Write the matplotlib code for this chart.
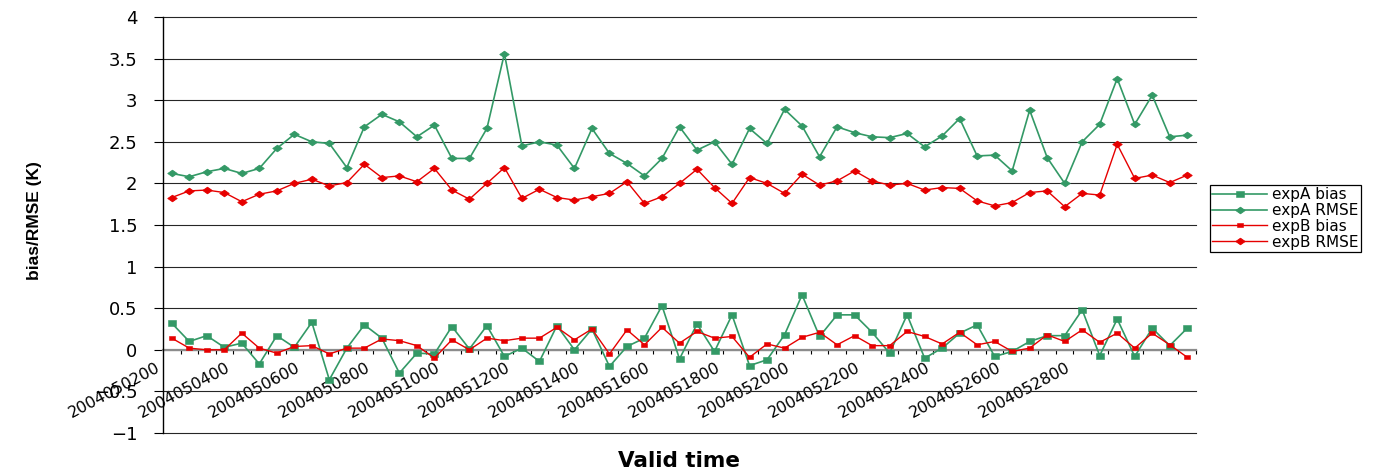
#!/usr/bin/env python3
import matplotlib
matplotlib.use("Agg")
import matplotlib.pyplot as plt
import numpy as np
from matplotlib.path import Path
from matplotlib.ticker import FuncFormatter
from matplotlib.transforms import ScaledTranslation

# valid times, every 12 h from 2 May to 31 May 2004
days = list(range(2, 31))
times = [f"200405{d:02d}{h:02d}" for d in days for h in (0, 12)] + ["2004053100"]

tick_labels = [
    "2004050200", "2004050400", "2004050600", "2004050800", "2004051000",
    "2004051200", "2004051400", "2004051600", "2004051800", "2004052000",
    "2004052200", "2004052400", "2004052600", "2004052800",
]

expA_bias = [
    0.32, 0.10, 0.17, 0.03, 0.08, -0.17, 0.17, 0.03, 0.33, -0.36,
    0.02, 0.30, 0.14, -0.28, -0.04, -0.05, 0.28, 0.01, 0.29, -0.08,
    0.02, -0.14, 0.29, 0.00, 0.25, -0.20, 0.04, 0.14, 0.53, -0.11,
    0.31, -0.02, 0.42, -0.19, -0.12, 0.18, 0.66, 0.16, 0.42, 0.42,
    0.21, -0.04, 0.42, -0.10, 0.02, 0.20, 0.30, -0.08, -0.02, 0.10,
    0.17, 0.17, 0.48, -0.07, 0.37, -0.08, 0.26, 0.05, 0.26,
]
expA_rmse = [
    2.12, 2.08, 2.14, 2.18, 2.12, 2.18, 2.42, 2.59, 2.50, 2.48,
    2.19, 2.68, 2.83, 2.74, 2.56, 2.70, 2.30, 2.30, 2.66, 3.56,
    2.45, 2.50, 2.46, 2.18, 2.66, 2.36, 2.24, 2.09, 2.30, 2.68,
    2.40, 2.50, 2.23, 2.66, 2.48, 2.89, 2.69, 2.32, 2.68, 2.61,
    2.56, 2.55, 2.60, 2.44, 2.57, 2.78, 2.33, 2.34, 2.15, 2.88,
    2.31, 2.00, 2.50, 2.71, 3.26, 2.71, 3.06, 2.56, 2.58,
]
expB_bias = [
    0.14, 0.02, 0.00, 0.00, 0.20, 0.02, -0.04, 0.04, 0.05, -0.05,
    0.02, 0.02, 0.13, 0.11, 0.05, -0.10, 0.12, 0.00, 0.14, 0.11,
    0.14, 0.14, 0.27, 0.12, 0.25, -0.05, 0.24, 0.06, 0.27, 0.08,
    0.22, 0.14, 0.16, -0.09, 0.07, 0.02, 0.15, 0.21, 0.06, 0.17,
    0.05, 0.05, 0.22, 0.16, 0.07, 0.21, 0.06, 0.10, -0.02, 0.02,
    0.18, 0.10, 0.24, 0.09, 0.20, 0.02, 0.20, 0.06, -0.09,
]
expB_rmse = [
    1.83, 1.91, 1.92, 1.89, 1.78, 1.87, 1.91, 2.00, 2.05, 1.97,
    2.01, 2.23, 2.07, 2.09, 2.02, 2.18, 1.92, 1.81, 2.00, 2.19,
    1.82, 1.93, 1.83, 1.80, 1.84, 1.88, 2.02, 1.76, 1.84, 2.00,
    2.17, 1.95, 1.76, 2.07, 2.00, 1.88, 2.11, 1.98, 2.03, 2.15,
    2.03, 1.98, 2.00, 1.92, 1.95, 1.94, 1.79, 1.73, 1.77, 1.89,
    1.91, 1.72, 1.88, 1.86, 2.47, 2.06, 2.10, 2.01, 2.10,
]

GREEN = "#339966"
RED = "#e60000"

# flattened square / diamond markers
box = Path([(-1, -0.68), (1, -0.68), (1, 0.68), (-1, 0.68), (-1, -0.68)], closed=True)
diamond = Path([(-1, 0), (0, 0.7), (1, 0), (0, -0.7), (-1, 0)], closed=True)

plt.rcParams["font.family"] = "DejaVu Sans"

fig = plt.figure(figsize=(13.8, 4.74), dpi=100)
ax = fig.add_axes([163 / 1380, 1 - 433 / 474, 1033 / 1380, 416 / 474])

x = np.arange(len(times))
ax.plot(x, expA_bias, color=GREEN, lw=1.2, marker=box, ms=5.4,
        mec=GREEN, mfc=GREEN, mew=0.4, label="expA bias")
ax.plot(x, expA_rmse, color=GREEN, lw=1.2, marker=diamond, ms=6.8,
        mec=GREEN, mfc=GREEN, mew=0.6, label="expA RMSE")
ax.plot(x, expB_bias, color=RED, lw=1.0, marker=box, ms=3.8,
        mec=RED, mfc=RED, mew=0.4, label="expB bias")
ax.plot(x, expB_rmse, color=RED, lw=1.0, marker=diamond, ms=6.8,
        mec=RED, mfc=RED, mew=0.6, label="expB RMSE")

ax.set_xlim(-0.5, len(times) - 0.5)
ax.set_ylim(-1, 4)

# y axis: gridlines every 0.5
ax.set_yticks(np.arange(-1, 4.01, 0.5))
ax.yaxis.set_major_formatter(FuncFormatter(lambda v, _: f"{v:g}".replace("-", "\u2212")))
ax.yaxis.grid(True, color="#262626", lw=0.8)
for gl in ax.get_ygridlines():
    gl.set_clip_on(False)
ax.tick_params(axis="y", direction="out", length=6.5, width=0.8, pad=12,
               labelsize=13, color="black")

# category axis sits on y = 0
for side in ("top", "right"):
    ax.spines[side].set_visible(False)
ax.spines["left"].set_color("black")
ax.spines["left"].set_linewidth(1.0)
ax.spines["bottom"].set_position(("data", 0))
ax.spines["bottom"].set_color("#8c8c8c")
ax.spines["bottom"].set_linewidth(1.6)
ax.spines["bottom"].set_zorder(1.8)

pos = [times.index(t) for t in tick_labels]
ax.set_xticks(pos, labels=tick_labels, rotation=28, ha="right", va="top",
              rotation_mode="anchor")
ax.set_xticks(np.arange(0.5, len(times), 1), minor=True)
ax.tick_params(axis="x", which="major", length=0, pad=7, labelsize=11.5)
ax.tick_params(axis="x", which="minor", direction="out", length=3, width=0.8,
               color="black")
shift = ScaledTranslation(-0.16, 0, fig.dpi_scale_trans)
for lbl in ax.get_xticklabels():
    lbl.set_transform(lbl.get_transform() + shift)

ax.set_xlabel("Valid time", fontsize=15.5, fontweight="bold")
ax.xaxis.set_label_coords(0.5, -0.067)
ax.xaxis.label.set_va("center")
ax.set_ylabel("bias/RMSE (K)", fontfamily="Liberation Sans", fontsize=12.5,
              fontweight="bold")
ax.yaxis.set_label_coords(-0.117, 0.511)

leg = ax.legend(loc="upper left", bbox_to_anchor=(1210 / 1380, 1 - 185 / 474),
                bbox_transform=fig.transFigure, borderaxespad=0, fancybox=False,
                edgecolor="black", framealpha=1, fontsize=11, handlelength=3.6,
                handletextpad=0.3, labelspacing=0.05, borderpad=0.15)
leg.get_frame().set_linewidth(0.9)

fig.savefig("out.png", dpi=100)
